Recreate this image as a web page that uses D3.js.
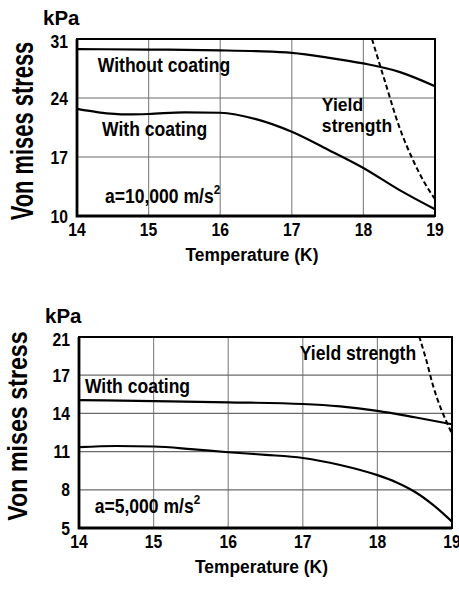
<!DOCTYPE html>
<html>
<head>
<meta charset="utf-8">
<script src="https://cdn.jsdelivr.net/npm/d3@7"></script>
<style>
  body { margin: 0; background: #fff; }
  svg text { font-family: "Liberation Sans", Arial, sans-serif; font-weight: bold; fill: #000; }
</style>
</head>
<body>
<svg id="chart" width="459" height="590"></svg>
<script>
// temperature axis, shared by both panels
const TEMP_TICKS = [14, 15, 16, 17, 18, 19];

// panel 1: a = 10,000 m/s^2
const TOP_Y_TICKS = [10, 17, 24, 31];
const TOP_WITHOUT = [[14, 29.8], [15, 29.75], [16, 29.65], [16.5, 29.55], [17, 29.35], [17.5, 28.8], [18, 28.1], [18.5, 27.1], [19, 25.4]];
const TOP_WITH = [[14, 22.7], [14.3, 22.3], [14.7, 22.05], [15, 22.1], [15.5, 22.3], [16, 22.25], [16.5, 21.5], [17, 20.0], [17.5, 17.9], [18, 15.7], [18.5, 13.1], [19, 10.8]];
const TOP_YIELD = [[18.12, 31], [18.3, 26], [18.5, 20.6], [18.7, 16.5], [18.85, 14.0], [19, 12.0]];

// panel 2: a = 5,000 m/s^2 (top tick printed as 21 in the source)
const BOT_Y_TICKS = [5, 8, 11, 14, 17, 20];
const BOT_Y_LABELS = ["5", "8", "11", "14", "17", "21"];
const BOT_UPPER = [[14, 15.05], [15, 14.97], [16, 14.87], [17, 14.74], [17.5, 14.55], [18, 14.2], [18.5, 13.7], [19, 13.15]];
const BOT_LOWER = [[14, 11.35], [14.5, 11.44], [15, 11.4], [15.5, 11.2], [16, 10.95], [16.5, 10.75], [17, 10.5], [17.5, 9.95], [18, 9.15], [18.25, 8.6], [18.5, 7.85], [18.75, 6.8], [19, 5.5]];
const BOT_YIELD = [[18.56, 20.05], [18.65, 18.3], [18.75, 16.1], [18.85, 14.4], [18.93, 13.3], [19, 12.4]];

const svg = d3.select("#chart");

function addText(g, x, y, str, size, sx, anchor) {
  return g.append("text")
    .attr("transform", `translate(${x},${y}) scale(${sx},1)`)
    .attr("text-anchor", anchor || "start")
    .style("font-size", size + "px")
    .text(str);
}

function drawPanel(p) {
  const g = svg.append("g");
  const x = d3.scaleLinear().domain([14, 19]).range([p.left, p.right]);
  const y = d3.scaleLinear().domain(p.yDomain).range([p.bottom, p.top]);

  // grid
  g.append("g").selectAll("line")
    .data(TEMP_TICKS.slice(1, -1))
    .join("line")
    .attr("x1", d => x(d)).attr("x2", d => x(d))
    .attr("y1", p.top).attr("y2", p.bottom)
    .attr("stroke", "#8a8a8a").attr("stroke-width", 1.2);
  g.append("g").selectAll("line")
    .data(p.yTicks.slice(1, -1))
    .join("line")
    .attr("x1", p.left).attr("x2", p.right)
    .attr("y1", d => y(d)).attr("y2", d => y(d))
    .attr("stroke", "#6a6a6a").attr("stroke-width", 1.2);

  // frame
  g.append("rect")
    .attr("x", p.left).attr("y", p.top)
    .attr("width", p.right - p.left).attr("height", p.bottom - p.top)
    .attr("fill", "none").attr("stroke", "#000").attr("stroke-width", 2);
  g.append("path")
    .attr("d", `M${p.left},${p.top}V${p.bottom}H${p.right}`)
    .attr("fill", "none").attr("stroke", "#000").attr("stroke-width", 2.8);

  // tick labels
  TEMP_TICKS.forEach(t => addText(g, x(t), p.bottom + 20, String(t), 18.5, 0.85, "middle"));
  p.yTicks.forEach((t, i) => addText(g, p.left - 9, y(t) + 6.5 + (i === p.yTicks.length - 1 ? 2 : 0), p.yLabels[i], 18.5, 0.85, "end"));

  // axis titles
  addText(g, p.left - 34, p.top - 14, "kPa", 19.5, 1.05, "start");
  addText(g, (p.left + p.right) / 2 - 4, p.bottom + 45, "Temperature (K)", 18.5, 0.94, "middle");
  g.append("text")
    .attr("transform", `translate(${p.ylabX},${p.ylabY}) rotate(-90) scale(${p.ylabSx},1)`)
    .attr("text-anchor", "middle")
    .style("font-size", p.ylabSize + "px")
    .text("Von mises stress");

  // curves
  const line = d3.line()
    .x(d => x(d[0])).y(d => y(d[1]))
    .curve(d3.curveMonotoneX);
  p.solid.forEach(s => g.append("path")
    .attr("d", line(s)).attr("fill", "none")
    .attr("stroke", "#000").attr("stroke-width", 2.2));
  g.append("path")
    .attr("d", line(p.dashed)).attr("fill", "none")
    .attr("stroke", "#000").attr("stroke-width", 2).attr("stroke-dasharray", "5,3");

  // annotations
  p.notes.forEach(n => addText(g, x(n.t), y(n.v), n.text, n.size || 19.5, n.sx || 0.9, "start"));
  const acc = addText(g, x(p.acc.t), y(p.acc.v), p.acc.text, 19.5, 0.9, "start");
  acc.append("tspan").attr("dy", -9).style("font-size", "13px").text("2");
}

drawPanel({
  left: 77, right: 435, top: 39, bottom: 216,
  yDomain: [10, 31], yTicks: TOP_Y_TICKS, yLabels: TOP_Y_TICKS.map(String),
  ylabX: 33, ylabY: 131, ylabSize: 32, ylabSx: 0.685,
  solid: [TOP_WITHOUT, TOP_WITH], dashed: TOP_YIELD,
  notes: [
    { t: 14.29, v: 27.1, text: "Without coating" },
    { t: 14.35, v: 19.5, text: "With coating" },
    { t: 17.42, v: 22.4, text: "Yield", size: 18.5, sx: 0.95 },
    { t: 17.42, v: 20.0, text: "strength", size: 18.5, sx: 0.95 }
  ],
  acc: { t: 14.39, v: 11.55, text: "a=10,000 m/s" }
});

drawPanel({
  left: 79, right: 452, top: 337, bottom: 528,
  yDomain: [5, 20], yTicks: BOT_Y_TICKS, yLabels: BOT_Y_LABELS,
  ylabX: 27, ylabY: 426, ylabSize: 28, ylabSx: 0.83,
  solid: [BOT_UPPER, BOT_LOWER], dashed: BOT_YIELD,
  notes: [
    { t: 14.08, v: 15.6, text: "With coating" },
    { t: 16.96, v: 18.2, text: "Yield strength" }
  ],
  acc: { t: 14.21, v: 6.18, text: "a=5,000 m/s" }
});
</script>
</body>
</html>
